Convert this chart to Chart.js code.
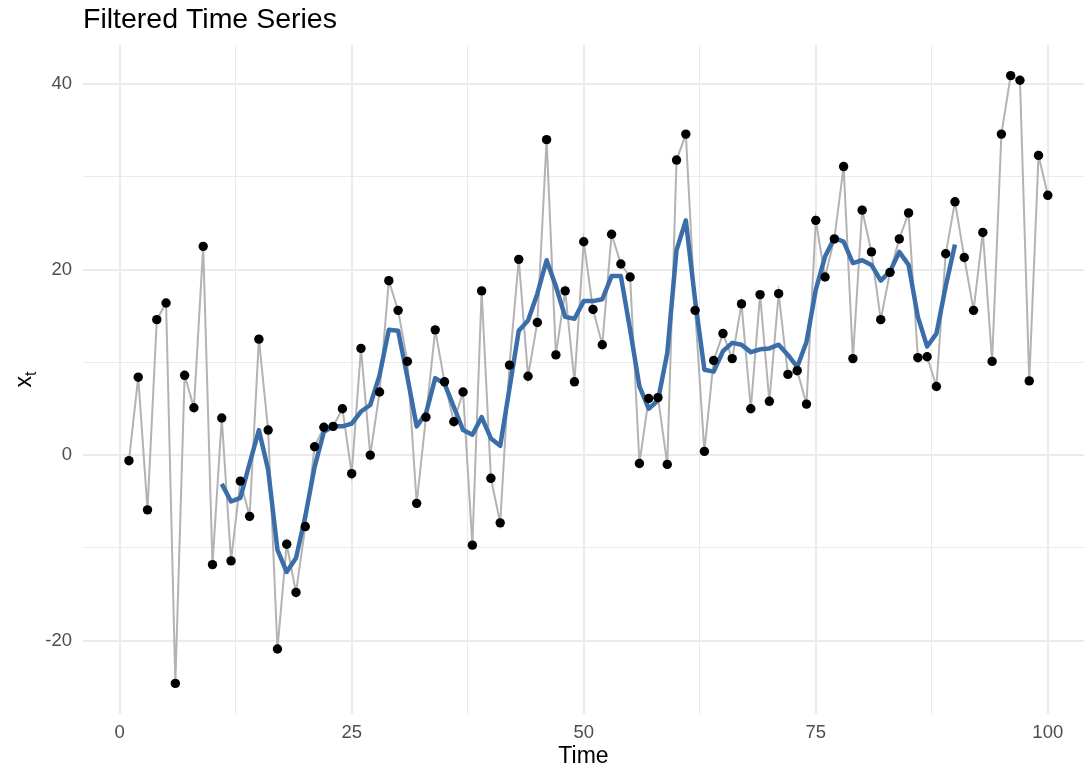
<!DOCTYPE html>
<html>
<head>
<meta charset="utf-8">
<script src="https://cdn.jsdelivr.net/npm/chart.js@4"></script>
<style>
  html, body { margin: 0; padding: 0; background: #ffffff; }
  #wrap { width: 1084px; height: 770px; position: relative; }
</style>
</head>
<body>
<div id="wrap"><canvas id="chart"></canvas></div>
<script>
// Observed series x_t, t = 1..100
const rawValues = [
  -0.6, 8.4, -5.9, 14.6, 16.4, -24.6, 8.6, 5.1, 22.5, -11.8,
  4.0, -11.4, -2.8, -6.6, 12.5, 2.7, -20.9, -9.6, -14.8, -7.7,
  0.9, 3.0, 3.1, 5.0, -2.0, 11.5, 0.0, 6.8, 18.8, 15.6,
  10.1, -5.2, 4.1, 13.5, 7.9, 3.6, 6.8, -9.7, 17.7, -2.5,
  -7.3, 9.7, 21.1, 8.5, 14.3, 34.0, 10.8, 17.7, 7.9, 23.0,
  15.7, 11.9, 23.8, 20.6, 19.2, -0.9, 6.1, 6.2, -1.0, 31.8,
  34.6, 15.6, 0.4, 10.2, 13.1, 10.4, 16.3, 5.0, 17.3, 5.8,
  17.4, 8.7, 9.1, 5.5, 25.3, 19.2, 23.3, 31.1, 10.4, 26.4,
  21.9, 14.6, 19.7, 23.3, 26.1, 10.5, 10.6, 7.4, 21.7, 27.3,
  21.3, 15.6, 24.0, 10.1, 34.6, 40.9, 40.4, 8.0, 32.3, 28.0
];

// Filtered series, defined for t = 11..90
const filteredStart = 11;
const filteredValues = [
  -3.1, -5.0, -4.6, -0.9, 2.7, -1.6, -10.2, -12.6, -11.1, -6.6,
  -1.3, 2.5, 3.1, 3.1, 3.4, 4.7, 5.4, 8.6, 13.5, 13.4,
  8.4, 3.1, 4.5, 8.3, 7.7, 5.2, 2.7, 2.2, 4.1, 1.8,
  1.0, 7.2, 13.4, 14.5, 17.4, 21.0, 18.2, 14.9, 14.7, 16.6,
  16.6, 16.8, 19.3, 19.3, 13.5, 7.4, 5.0, 5.9, 11.0, 22.1,
  25.3, 16.7, 9.2, 9.0, 11.2, 12.1, 11.9, 11.1, 11.4, 11.5,
  11.9, 10.8, 9.5, 12.2, 17.8, 21.4, 23.4, 23.0, 20.7, 21.0,
  20.5, 18.8, 19.8, 21.9, 20.5, 14.9, 11.7, 13.1, 18.2, 22.7
];

// Axis breaks: labelled majors plus unlabelled minors
const xMajorTicks = [0, 25, 50, 75, 100];
const xMinorTicks = [12.5, 37.5, 62.5, 87.5];
const yMajorTicks = [-20, 0, 20, 40];
const yMinorTicks = [-10, 10, 30];

const rawPoints = rawValues.map((v, i) => ({ x: i + 1, y: v }));
const filteredPoints = filteredValues.map((v, i) => ({ x: filteredStart + i, y: v }));

const FONT = '"Liberation Sans", Arial, Helvetica, sans-serif';
const GRID = '#ebebeb';

function tickList(major, minor) {
  return major.concat(minor).sort((a, b) => a - b).map(v => ({ value: v }));
}

const textPlugin = {
  id: 'textPlugin',
  afterDraw(chart) {
    const ctx = chart.ctx;
    const area = chart.chartArea;
    ctx.save();
    // Plot title, aligned with the panel
    ctx.fillStyle = '#000000';
    ctx.font = '28.5px ' + FONT;
    ctx.textAlign = 'left';
    ctx.textBaseline = 'alphabetic';
    ctx.fillText('Filtered Time Series', area.left, 28);

    // Y axis title: x with subscript t, rotated
    const mainFont = '23px ' + FONT;
    const subFont = '16px ' + FONT;
    ctx.font = mainFont;
    const w1 = ctx.measureText('x').width;
    ctx.font = subFont;
    const w2 = ctx.measureText('t').width;
    const total = w1 + w2;
    ctx.translate(31, (area.top + area.bottom) / 2);
    ctx.rotate(-Math.PI / 2);
    ctx.textAlign = 'left';
    ctx.font = mainFont;
    ctx.fillText('x', -total / 2, 0);
    ctx.font = subFont;
    ctx.fillText('t', -total / 2 + w1, 5);
    ctx.restore();
  }
};

new Chart(document.getElementById('chart'), {
  type: 'line',
  data: {
    datasets: [
      {
        label: 'series',
        data: rawPoints,
        borderColor: '#b3b3b3',
        borderWidth: 2,
        pointRadius: 0,
        tension: 0,
        fill: false,
        order: 3
      },
      {
        label: 'filtered',
        data: filteredPoints,
        borderColor: '#3b6ea8',
        borderWidth: 4.5,
        pointRadius: 0,
        tension: 0,
        fill: false,
        borderJoinStyle: 'round',
        borderCapStyle: 'butt',
        order: 2
      },
      {
        label: 'points',
        data: rawPoints,
        showLine: false,
        pointRadius: 4.7,
        pointBackgroundColor: '#000000',
        pointBorderWidth: 0,
        borderColor: '#000000',
        order: 1
      }
    ]
  },
  options: {
    responsive: true,
    maintainAspectRatio: false,
    animation: false,
    devicePixelRatio: 1,
    layout: { autoPadding: false, padding: { left: 0, right: 0, top: 45, bottom: 0 } },
    plugins: {
      legend: { display: false },
      tooltip: { enabled: false },
      title: { display: false }
    },
    scales: {
      x: {
        type: 'linear',
        min: -3.95,
        max: 103.9,
        afterBuildTicks: (s) => { s.ticks = tickList(xMajorTicks, xMinorTicks); },
        afterFit: (s) => { s.height = 56; },
        border: { display: false },
        grid: {
          drawTicks: false,
          color: GRID,
          lineWidth: (c) => (xMajorTicks.includes(c.tick && c.tick.value) ? 2 : 1)
        },
        ticks: {
          autoSkip: false,
          maxRotation: 0,
          padding: 8,
          color: '#4d4d4d',
          font: { family: FONT, size: 18.5 },
          callback: (v) => (xMajorTicks.includes(v) ? String(v) : '')
        },
        title: {
          display: true,
          text: 'Time',
          color: '#000000',
          font: { family: FONT, size: 23 },
          padding: { top: 0, bottom: 0 }
        }
      },
      y: {
        type: 'linear',
        min: -27.9,
        max: 44.2,
        afterBuildTicks: (s) => { s.ticks = tickList(yMajorTicks, yMinorTicks); },
        afterFit: (s) => { s.width = 83; },
        border: { display: false },
        grid: {
          drawTicks: false,
          color: GRID,
          lineWidth: (c) => (yMajorTicks.includes(c.tick && c.tick.value) ? 2 : 1)
        },
        ticks: {
          autoSkip: false,
          padding: 11,
          color: '#4d4d4d',
          font: { family: FONT, size: 18.5 },
          callback: (v) => (yMajorTicks.includes(v) ? String(v) : '')
        }
      }
    }
  },
  plugins: [textPlugin]
});
</script>
</body>
</html>
